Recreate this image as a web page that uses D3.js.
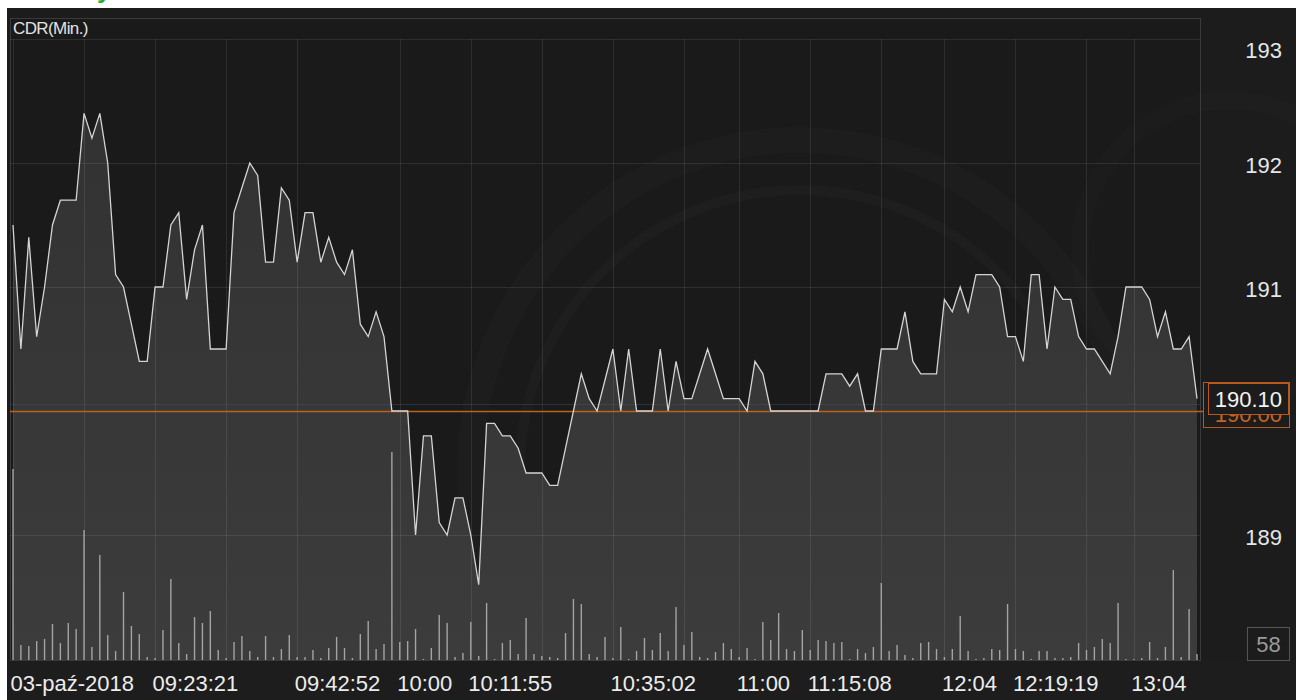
<!DOCTYPE html>
<meta charset="utf-8" />
<script src="https://d3js.org/d3.v7.min.js"></script>
<style>
  body { margin: 0; background: #fff; }
  text { font-family: "Liberation Sans", Arial, sans-serif; }
</style>
<body>
  <div id="my_dataviz"></div>
</body>
<script>
  // price per minute (CDR)
  var prices = [
    191.5, 190.5, 191.4, 190.6, 191.0, 191.5, 191.7, 191.7, 191.7, 192.4,
    192.2, 192.4, 192.0, 191.1, 191.0, 190.7, 190.4, 190.4, 191.0, 191.0,
    191.5, 191.6, 190.9, 191.3, 191.5, 190.5, 190.5, 190.5, 191.6, 191.8,
    192.0, 191.9, 191.2, 191.2, 191.8, 191.7, 191.2, 191.6, 191.6, 191.2,
    191.4, 191.2, 191.1, 191.3, 190.7, 190.6, 190.8, 190.6, 190.0, 190.0,
    190.0, 189.0, 189.8, 189.8, 189.1, 189.0, 189.3, 189.3, 189.0, 188.6,
    189.9, 189.9, 189.8, 189.8, 189.7, 189.5, 189.5, 189.5, 189.4, 189.4,
    189.7, 190.0, 190.3, 190.1, 190.0, 190.25, 190.5, 190.0, 190.5, 190.0,
    190.0, 190.0, 190.5, 190.0, 190.4, 190.1, 190.1, 190.3, 190.5, 190.3,
    190.1, 190.1, 190.1, 190.0, 190.4, 190.3, 190.0, 190.0, 190.0, 190.0,
    190.0, 190.0, 190.0, 190.3, 190.3, 190.3, 190.2, 190.3, 190.0, 190.0,
    190.5, 190.5, 190.5, 190.8, 190.4, 190.3, 190.3, 190.3, 190.9, 190.8,
    191.0, 190.8, 191.1, 191.1, 191.1, 191.0, 190.6, 190.6, 190.4, 191.1,
    191.1, 190.5, 191.0, 190.9, 190.9, 190.6, 190.5, 190.5, 190.4, 190.3,
    190.6, 191.0, 191.0, 191.0, 190.9, 190.6, 190.8, 190.5, 190.5, 190.6, 190.1
  ];

  // volume per minute
  var volumes = [
    191, 15, 14, 19, 21, 36, 17, 37, 31, 130,
    13, 105, 25, 9, 68, 34, 26, 3, 2, 30,
    81, 17, 6, 43, 37, 49, 10, 2, 18, 24,
    9, 3, 24, 3, 11, 25, 3, 3, 10, 2,
    12, 23, 12, 2, 26, 39, 11, 16, 208, 18,
    19, 31, 1, 12, 45, 37, 3, 7, 38, 4,
    57, 1, 17, 20, 6, 42, 6, 4, 3, 2,
    27, 61, 56, 6, 3, 23, 2, 33, 1, 9,
    22, 10, 27, 9, 53, 15, 28, 3, 2, 8,
    17, 11, 3, 12, 1, 38, 20, 47, 11, 9,
    30, 10, 20, 19, 17, 18, 1, 11, 7, 13,
    77, 9, 15, 5, 2, 17, 18, 11, 3, 11,
    44, 9, 1, 2, 11, 10, 56, 11, 9, 1,
    9, 9, 2, 2, 3, 17, 10, 13, 21, 17,
    57, 1, 1, 2, 18, 2, 13, 90, 3, 51, 6
  ];

  // vertical grid lines and time labels (positions are point indexes)
  var gridIdx = [0, 9, 18, 27, 36, 49, 58, 67, 76, 85, 92, 101, 110, 118, 127, 136, 142];
  var tickIdx = [0, 18, 36, 49, 58, 76, 92, 101, 118, 127, 142];
  var tickLabels = ["03-paź-2018", "09:23:21", "09:42:52", "10:00", "10:11:55",
    "10:35:02", "11:00", "11:15:08", "12:04", "12:19:19", "13:04"];
  var priceTicks = [193, 192, 191, 189];
  var refPrice = 190.0;
  var lastPrice = 190.1;
  var lastVolume = 58;

  var W = 1296, H = 700;
  var plotLeft = 13, plotRight = 1197, plotTop = 39, plotBottom = 660;

  var svg = d3.select("#my_dataviz").append("svg")
    .attr("width", W).attr("height", H);

  // little green bit of the page title that is cut off
  svg.append("text").attr("x", 97).attr("y", -2)
    .attr("font-size", 26).attr("font-weight", "bold")
    .attr("fill", "#1fae3c").text("y");

  // chart background
  svg.append("rect").attr("x", 7).attr("y", 8)
    .attr("width", W - 7).attr("height", H - 8).attr("fill", "#1c1c1c");
  svg.append("rect").attr("x", 10.5).attr("y", 18.5)
    .attr("width", 1190).attr("height", plotBottom - 18).attr("fill", "#1a1a1a")
    .attr("stroke", "#3a3a3a");

  // faint watermark rings
  var wm = svg.append("g").attr("fill", "none").attr("stroke", "#fff");
  wm.append("circle").attr("cx", 800).attr("cy", 470).attr("r", 330)
    .attr("stroke-width", 26).attr("opacity", 0.015);
  wm.append("circle").attr("cx", 800).attr("cy", 470).attr("r", 280)
    .attr("stroke-width", 10).attr("opacity", 0.018);
  wm.append("circle").attr("cx", 1230).attr("cy", 250).attr("r", 150)
    .attr("stroke-width", 18).attr("opacity", 0.012);

  var x = d3.scaleLinear().domain([0, prices.length - 1]).range([plotLeft, plotRight]);
  var y = d3.scaleLinear().domain([189, 193]).range([535, plotTop]);
  var yv = d3.scaleLinear().domain([0, 250]).range([plotBottom, plotBottom - 250]);

  var defs = svg.append("defs");
  var grad = defs.append("linearGradient").attr("id", "fillGrad")
    .attr("x1", 0).attr("y1", 0).attr("x2", 0).attr("y2", 1);
  grad.append("stop").attr("offset", "0%").attr("stop-color", "#323232");
  grad.append("stop").attr("offset", "100%").attr("stop-color", "#3c3c3c");

  // area under the price line
  var area = d3.area()
    .x(function (d, i) { return x(i); })
    .y0(plotBottom)
    .y1(function (d) { return y(d); });
  svg.append("path").datum(prices).attr("d", area).attr("fill", "url(#fillGrad)");

  // grid
  var grid = svg.append("g").attr("stroke", "#fff").attr("stroke-opacity", 0.09);
  grid.selectAll("line.v").data(gridIdx).enter().append("line")
    .attr("x1", function (d) { return Math.round(x(d)) + 0.5; })
    .attr("x2", function (d) { return Math.round(x(d)) + 0.5; })
    .attr("y1", plotTop).attr("y2", plotBottom);
  grid.selectAll("line.h").data([193, 192, 191, 189]).enter().append("line")
    .attr("x1", 10).attr("x2", 1200)
    .attr("y1", function (d) { return Math.round(y(d)) + 0.5; })
    .attr("y2", function (d) { return Math.round(y(d)) + 0.5; });

  // header strip
  svg.append("text").attr("x", 13).attr("y", 34).attr("font-size", 17)
    .attr("fill", "#e2e2e2").attr("letter-spacing", -0.6).text("CDR(Min.)");

  // volume bars
  svg.append("g").selectAll("line").data(volumes).enter().append("line")
    .attr("x1", function (d, i) { return x(i); })
    .attr("x2", function (d, i) { return x(i); })
    .attr("y1", plotBottom)
    .attr("y2", function (d) { return yv(d); })
    .attr("stroke", "#a4a4a4").attr("stroke-width", 1.4);

  // faint line near the last price
  svg.append("line").attr("x1", 10).attr("x2", 1200).attr("y1", 404.5).attr("y2", 404.5)
    .attr("stroke", "#3c5a78").attr("stroke-opacity", 0.4);

  // reference (previous close) line
  svg.append("line").attr("x1", 10).attr("x2", 1203)
    .attr("y1", Math.round(y(refPrice)) + 0.5).attr("y2", Math.round(y(refPrice)) + 0.5)
    .attr("stroke", "#c0601e").attr("stroke-width", 1.5);

  // price line
  var line = d3.line()
    .x(function (d, i) { return x(i); })
    .y(function (d) { return y(d); });
  svg.append("path").datum(prices).attr("d", line)
    .attr("fill", "none").attr("stroke", "#d4d4d4").attr("stroke-width", 1.3);

  // bottom axis strip
  svg.append("rect").attr("x", 7).attr("y", plotBottom + 1)
    .attr("width", W - 7).attr("height", H - plotBottom - 1).attr("fill", "#1d1d1d");

  var xAxis = svg.append("g").attr("transform", "translate(0," + plotBottom + ")")
    .call(d3.axisBottom(x).tickValues(tickIdx).tickSize(0)
      .tickFormat(function (d) { return tickLabels[tickIdx.indexOf(d)]; }));
  xAxis.select(".domain").remove();
  xAxis.selectAll("text")
    .attr("text-anchor", "start").attr("dx", -3).attr("y", 31).attr("dy", 0)
    .attr("font-size", 22).attr("fill", "#ececec")
    .style("font-family", "'Liberation Sans', Arial, sans-serif");

  // price axis on the right
  var yAxis = svg.append("g").attr("transform", "translate(1282,0)")
    .call(d3.axisRight(y).tickValues(priceTicks).tickSize(0)
      .tickFormat(d3.format("d")));
  yAxis.select(".domain").remove();
  yAxis.selectAll("text")
    .attr("text-anchor", "end").attr("x", 0)
    .attr("dy", function (d) { return d === 193 ? "0.85em" : "0.45em"; })
    .attr("font-size", 22).attr("fill", "#e6e6e6")
    .style("font-family", "'Liberation Sans', Arial, sans-serif");

  // price labels: reference behind, last price on top
  svg.append("rect").attr("x", 1203.5).attr("y", Math.round(y(refPrice)) - 28.5)
    .attr("width", 86).attr("height", 45).attr("fill", "#1c1c1c")
    .attr("stroke", "#b9581c");
  svg.append("text").attr("x", 1282).attr("y", y(refPrice) + 11)
    .attr("text-anchor", "end").attr("font-size", 22).attr("fill", "#c8621f")
    .text(d3.format(".2f")(refPrice));
  svg.append("rect").attr("x", 1208.5).attr("y", Math.round(y(lastPrice)) - 15.5)
    .attr("width", 80).attr("height", 31).attr("fill", "#1c1c1c")
    .attr("stroke", "#b9581c");
  svg.append("text").attr("x", 1282).attr("y", y(lastPrice) + 8)
    .attr("text-anchor", "end").attr("font-size", 22).attr("fill", "#f2f2f2")
    .text(d3.format(".2f")(lastPrice));

  // last volume label
  svg.append("rect").attr("x", 1247.5).attr("y", 627.5)
    .attr("width", 42).attr("height", 33).attr("fill", "none")
    .attr("stroke", "#555");
  svg.append("text").attr("x", 1268.5).attr("y", 652)
    .attr("text-anchor", "middle").attr("font-size", 22).attr("fill", "#9a9a9a")
    .text(lastVolume);
</script>
